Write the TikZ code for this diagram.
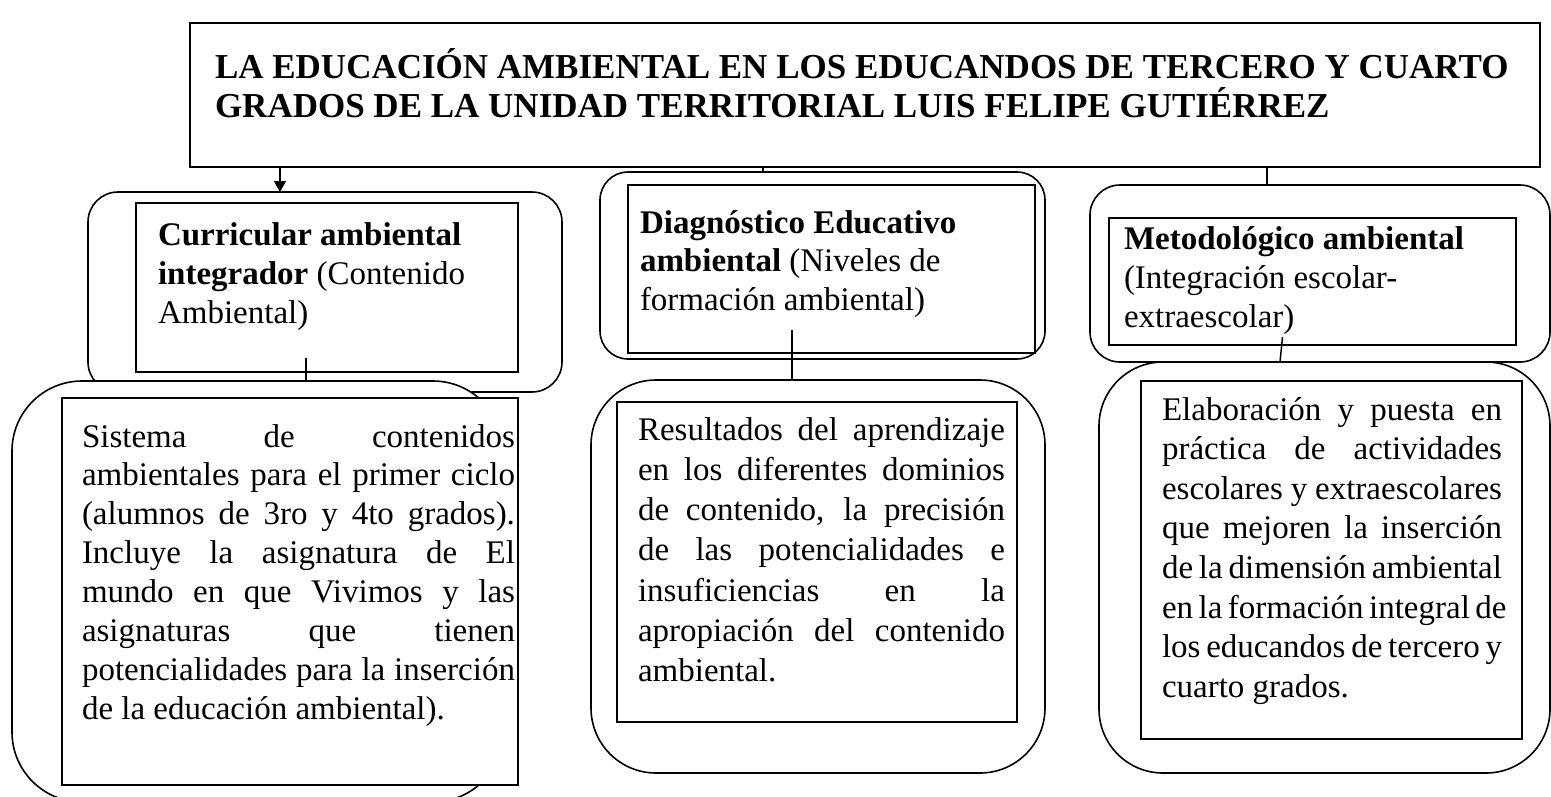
\documentclass[tikz,border=0pt]{standalone}
\usepackage{fontspec}
\setmainfont{Liberation Serif}
\usetikzlibrary{arrows.meta}
\newcommand\jl[1]{\hbox to \hsize{#1}}
\newcommand\nl[1]{\hbox{#1}}
\newcommand\tblock[3]{\vtop{\hsize=#1\baselineskip=#2\lineskiplimit=-100pt\lineskip=0pt\relax #3}}
\tikzset{
  frame/.style={draw, line width=1.6pt, fill=white, inner sep=0pt, outer sep=0pt, anchor=north west},
  rbox/.style={frame, rounded corners=#1},
  txt/.style={anchor=base west, inner sep=0pt, outer sep=0pt, font=\fontsize{33}{39}\selectfont},
  conn/.style={line width=1.5pt}
}
\begin{document}
\begin{tikzpicture}[x=1pt,y=-1pt]
\useasboundingbox (0,0) rectangle (1551,796);
% title
\node[frame, line width=2pt, minimum width=1350pt, minimum height=144pt] (top) at (190,23) {};
\node[txt, font=\fontsize{35}{40}\selectfont] (title) at (215,78)
  {\tblock{1320pt}{39pt}{\nl{\textbf{LA EDUCACIÓN AMBIENTAL EN LOS EDUCANDOS DE TERCERO Y CUARTO}}\nl{\textbf{GRADOS DE LA UNIDAD TERRITORIAL LUIS FELIPE GUTIÉRREZ}}}};
% box 1
\node[rbox=30pt, minimum width=474pt, minimum height=200pt] (b1) at (88,192) {};
\node[frame, minimum width=382pt, minimum height=169pt] (i1) at (136,203) {};
\node[txt] (t1) at (158,245) {\tblock{350pt}{39pt}{\nl{\textbf{Curricular ambiental}}\nl{\textbf{integrador} (Contenido}\nl{Ambiental)}}};
% box 2
\node[rbox=28pt, minimum width=445pt, minimum height=187pt] (b2) at (600,172) {};
\node[frame, minimum width=407pt, minimum height=168pt] (i2) at (628,185) {};
\node[txt] (t2) at (640,233) {\tblock{380pt}{38.5pt}{\nl{\textbf{Diagnóstico Educativo}}\nl{\textbf{ambiental} (Niveles de}\nl{formación ambiental)}}};
% box 3
\node[rbox=30pt, minimum width=460pt, minimum height=177pt] (b3) at (1090,185) {};
\node[frame, minimum width=407pt, minimum height=127pt] (i3) at (1109,218) {};
\node[txt] (t3) at (1124,249) {\tblock{380pt}{39pt}{\nl{\textbf{Metodológico ambiental}}\nl{(Integración escolar-}\nl{extraescolar)}}};
% box 4
\node[rbox=70pt, minimum width=491pt, minimum height=421pt] (b4) at (12,381) {};
\node[frame, minimum width=456pt, minimum height=387pt] (i4) at (62,398) {};
\node[txt] (t4) at (82,447) {\tblock{433pt}{38.9pt}{%
  \jl{Sistema de contenidos}%
  \jl{ambientales para el primer ciclo}%
  \jl{(alumnos de 3ro y 4to grados).}%
  \jl{Incluye la asignatura de El}%
  \jl{mundo en que Vivimos y las}%
  \jl{asignaturas que tienen}%
  \jl{potencialidades para la inserción}%
  \nl{de la educación ambiental).}}};
% box 5
\node[rbox=65pt, minimum width=454pt, minimum height=393pt] (b5) at (591,380) {};
\node[frame, minimum width=400pt, minimum height=320pt] (i5) at (617,402) {};
\node[txt] (t5) at (638,440) {\tblock{367pt}{40.3pt}{%
  \jl{Resultados del aprendizaje}%
  \jl{en los diferentes dominios}%
  \jl{de contenido, la precisión}%
  \jl{de las potencialidades e}%
  \jl{insuficiencias en la}%
  \jl{apropiación del contenido}%
  \nl{ambiental.}}};
% box 6
\node[rbox=64pt, minimum width=451pt, minimum height=411pt] (b6) at (1099,362) {};
\node[frame, minimum width=381pt, minimum height=358pt] (i6) at (1141,381) {};
\node[txt] (t6) at (1162,420) {\tblock{340pt}{39.6pt}{%
  \jl{Elaboración y puesta en}%
  \jl{práctica de actividades}%
  \jl{escolares y extraescolares}%
  \jl{que mejoren la inserción}%
  \jl{de la dimensión ambiental}%
  \jl{en la formación integral de}%
  \jl{los educandos de tercero y}%
  \nl{cuarto grados.}}};
% connectors
\coordinate (a1) at (280,0);
\coordinate (a2) at (763,0);
\coordinate (a3) at (1267,0);
\draw[conn, -{Triangle[length=11pt,width=12pt]}] (top.south -| a1) -- (b1.north -| a1);
\draw[conn] (top.south -| a2) -- (b2.north -| a2);
\draw[conn] (top.south -| a3) -- (b3.north -| a3);
\coordinate (c1) at (306,358);
\coordinate (c2) at (792,330);
\coordinate (c3) at (1282.5,337);
\coordinate (c3e) at (1280,0);
\draw[conn] (c1) -- (b4.north -| c1);
\draw[conn] (c2) -- (b5.north -| c2);
\draw[conn] (c3) -- (b6.north -| c3e);
\end{tikzpicture}
\end{document}
